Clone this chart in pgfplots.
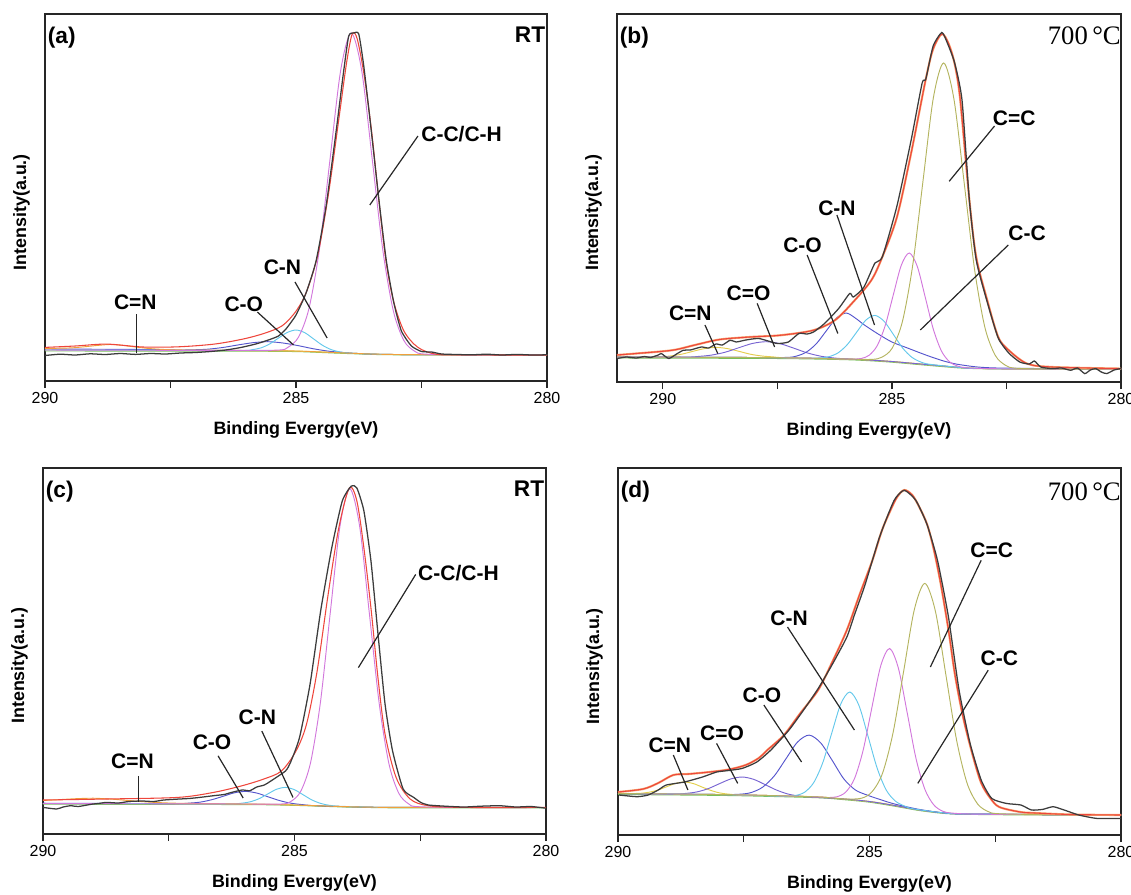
\documentclass[border=0pt]{standalone}
\usepackage{fontspec}
\setmainfont{Liberation Sans}
\newfontfamily\seriffont{Liberation Serif}
\usepackage{pgfplots}
\pgfplotsset{compat=1.18}

\definecolor{dat}{RGB}{60,60,60}
\definecolor{env}{RGB}{238,70,60}
\definecolor{envo}{RGB}{245,165,110}
\definecolor{pk}{RGB}{210,120,220}
\definecolor{cy}{RGB}{100,200,235}
\definecolor{bl}{RGB}{85,85,205}
\definecolor{vi}{RGB}{120,100,210}
\definecolor{ol}{RGB}{180,180,95}
\definecolor{ye}{RGB}{225,215,80}
\definecolor{gr}{RGB}{120,190,90}
\definecolor{orn}{RGB}{240,160,60}

\pgfplotsset{
  xps/.style={
    scale only axis, anchor=south west,
    x dir=reverse, xmin=280, xmax=290, ymin=0,
    axis line style={line width=1.2pt, black!85},
    xtick={280,285,290}, minor xtick={282.5,287.5},
    ytick=\empty, tick align=outside, xtick pos=left,
    major tick length=5.25pt, minor tick length=5.25pt,
    tick style={line width=1pt, black!85},
    tick label style={font=\fontsize{12}{14}\selectfont},
    /pgf/number format/assume math mode=true,
    clip=false,
  },
  comp/.style={smooth, line width=0.7pt},
  envl/.style={smooth, line width=0.8pt, env},
  datl/.style={smooth, tension=0.35, line width=0.95pt, dat},
}
\tikzset{
  lab/.style={font=\fontsize{15.75}{18}\selectfont\bfseries, inner sep=0pt},
  lead/.style={line width=0.9pt, black!85},
  plab/.style={font=\fontsize{17}{20}\selectfont\bfseries, inner sep=0pt},
  tlab/.style={font=\fontsize{13.4}{16}\selectfont\bfseries},
}
\newcommand{\axlabels}{%
  \node[tlab] at (rel axis cs:0.5,0) [yshift=-36.5pt] {Binding Evergy(eV)};
  \node[tlab, rotate=90, yshift=17.6pt] at (rel axis cs:0,0.46) {Intensity(a.u.)};
}

\begin{document}
\begin{tikzpicture}
\useasboundingbox (0,0) rectangle (848.25pt,-671.25pt);

% ---------------- (a) RT ----------------
\begin{axis}[xps, at={(33.75pt,-285.75pt)}, width=376.5pt, height=275.25pt, ymax=367]
\addplot[comp, gr] coordinates {(290,30) (286,29.8) (285,29.4) (284.5,28.5) (284,27.5) (283.5,26.7) (283,26.2) (280,25.8)};
\addplot[comp, ye] coordinates {(290,31) (287,30.7) (286,30.4) (285.5,30.2) (285,29.9) (284.5,29) (284,28) (283.5,27) (283,26.5) (282,26.1) (280,26)};
\addplot[comp, bl] coordinates {(290,32) (288,31.5) (287.36,31) (287.06,31.2) (286.76,31.8) (286.46,33.5) (286.16,36) (285.86,38.3) (285.56,39.3) (285.26,38) (284.96,35.4) (284.66,32.3) (284.36,29.9) (284.06,28.5) (283.76,27.5) (283,26.5) (280,26)};
\addplot[comp, cy] coordinates {(290,31) (287,30.7) (286.05,30.5) (285.875,31.3) (285.7,33.1) (285.525,37) (285.35,42.9) (285.175,48.5) (285,51) (284.825,48.3) (284.65,42.1) (284.475,35.8) (284.3,31.4) (284.125,29.1) (283.95,28) (283.5,27) (283,26.5) (280,26)};
\addplot[comp, orn] coordinates {(290,32.5) (289.7,32.8) (289.45,33.2) (289.2,34.3) (288.95,35.6) (288.7,36.5) (288.45,35.6) (288.2,34) (287.95,32.6) (287.7,31.7) (287.45,31.2) (287.2,31) (286,30.5) (285,30) (284,28) (283,26.5) (280,26)};
\addplot[comp, pk] coordinates {(290,31) (286.5,30.6) (285.37,30.9) (285.16,33.7) (284.95,43.9) (284.74,72.8) (284.53,133) (284.32,222.7) (284.11,310.6) (283.9,348) (283.69,310) (283.48,221.1) (283.27,130.7) (283.06,69.9) (282.85,40.4) (282.64,29.9) (282.43,26.9) (281.5,26.1) (280,26)};
\addplot[envl] coordinates {(290,33.6) (289.4,35) (288.77,36.9) (288.05,34) (287.34,34.2) (286.63,36.9) (286.06,41.9) (285.63,47.7) (285.27,55.4) (284.99,70.5) (284.78,90.6) (284.56,127.5) (284.35,188) (284.13,268) (283.99,319) (283.88,347) (283.78,342) (283.64,305) (283.49,248) (283.35,181) (283.21,121) (283.06,80.5) (282.85,50) (282.57,33.6) (282.21,26.8) (281.64,26.2) (280,25.8)};
\addplot[datl] coordinates {(290,25.5) (289.7,26.8) (289.4,26) (289.1,27.2) (288.8,26.5) (288.5,27.5) (288.2,26.6) (287.9,27.5) (287.6,27) (287.3,28) (287,28.5) (286.7,29.5) (286.4,31) (286.1,33.5) (285.8,37) (285.55,41) (285.35,45) (285.2,52) (285,66) (284.8,88) (284.6,120) (284.4,175) (284.2,250) (284.05,310) (283.95,345) (283.85,348) (283.75,347) (283.65,315) (283.5,250) (283.35,182) (283.2,120) (283.05,78) (282.9,50) (282.7,35) (282.5,29.5) (282.3,29) (282.1,27) (281.8,26.5) (281.5,26.2) (281.2,26.8) (280.9,26) (280.6,26.6) (280.3,26) (280,26.2)};
\draw[lead] (axis cs:282.57,245) -- (axis cs:283.53,176);
\draw[lead] (axis cs:285.02,99) -- (axis cs:284.38,43);
\draw[lead] (axis cs:285.77,69) -- (axis cs:285.05,36);
\draw[lead] (axis cs:288.18,67) -- (axis cs:288.18,28.5);
\node[lab] at (axis cs:281.70,246.6) {C-C/C-H};
\node[lab] at (axis cs:285.27,114) {C-N};
\node[lab] at (axis cs:286.04,77) {C-O};
\node[lab] at (axis cs:288.2,79) {C=N};
\node[plab, anchor=north west] at (rel axis cs:0,1) [xshift=2pt, yshift=-9.5pt] {(a)};
\node[plab, anchor=north east] at (rel axis cs:1,1) [xshift=-1.2pt, yshift=-9.5pt] {RT};
\axlabels
\end{axis}

% ---------------- (b) 700 C ----------------
\begin{axis}[xps, at={(462.75pt,-286.5pt)}, width=378pt, height=276pt, xmax=291, ymax=368]
\addplot[comp, gr] coordinates {(291,24) (288,23.6) (287,23.2) (286,22.3) (285.5,21.3) (285,19.8) (284.5,17.8) (284,15.8) (283.5,14) (283,13.2) (282,12.8) (280,12.8)};
\addplot[comp, ye] coordinates {(291,25) (288,24.5) (287,24) (286,23) (285.5,22) (285,20.5) (284.5,18.5) (284,16.5) (283.5,14.5) (283,13.5) (282,13) (280,13)};
\addplot[comp, ye!80!orn] coordinates {(291,25) (290.34,24.8) (290.09,25.1) (289.84,26) (289.59,27.8) (289.34,30.7) (289.09,33.4) (288.84,34.6) (288.59,33.4) (288.34,30.7) (288.09,27.8) (287.84,26) (287.59,25.1) (287.34,24.3) (286,23) (285,20.5) (284,16.5) (283,13.5) (280,13)};
\addplot[comp, vi] coordinates {(291,25) (289.54,24.9) (289.24,25.5) (288.94,26.9) (288.64,29.8) (288.34,34.3) (288.04,38.6) (287.74,40.3) (287.44,38.3) (287.14,33.8) (286.84,29) (286.54,25.7) (286.24,23.9) (285.94,23) (285.5,22) (285,20.5) (284.5,18.5) (284,16.5) (283.5,14.5) (283,13.5) (280,13)};
\addplot[comp, bl] coordinates {(291,25) (288,24.5) (287.29,24.6) (287.075,26) (286.86,30.1) (286.645,38.5) (286.43,51.3) (286.215,63.8) (286,69) (285.8,64) (285.6,57) (285.3,48) (285,40) (284.66,34) (284.26,27) (283.87,21) (283.47,17) (282.7,14) (280,13)};
\addplot[comp, cy] coordinates {(291,25) (288,24.5) (287,24) (286.57,24.1) (286.37,25.4) (286.17,29.3) (285.97,37.6) (285.77,49.8) (285.57,61.8) (285.37,66.6) (285.17,60.7) (284.97,47.7) (284.77,34.2) (284.57,24.9) (284.37,20) (284.17,17.7) (283.5,14.5) (283,13.5) (280,13)};
\addplot[comp, pk] coordinates {(291,25) (288,24.5) (287,24) (286,23) (285.845,22.9) (285.67,23.5) (285.495,26.8) (285.32,36.4) (285.145,56.6) (284.97,87.1) (284.795,116.8) (284.62,129) (284.445,115.4) (284.27,84.3) (284.095,52.6) (283.92,31.1) (283.745,20.3) (283.57,16) (283.395,14.3) (283,13.5) (282,13) (280,13)};
\addplot[comp, ol] coordinates {(291,25) (288,24.5) (287,24) (286,23) (285.445,22.6) (285.22,24.8) (284.995,33.8) (284.77,60.6) (284.545,117.1) (284.32,201.6) (284.095,284.3) (283.87,319) (283.645,282.5) (283.42,198.1) (283.195,112.3) (282.97,54.5) (282.745,26.7) (282.52,16.7) (282.295,13.8) (281.5,13) (280,13)};
\addplot[smooth, line width=1.6pt, envo] coordinates {(291,27) (290.58,28.5) (289.79,31.8) (289.3,37) (288.76,42.5) (288.1,45) (287.42,46.8) (286.71,51.8) (286.24,61.9) (285.84,80.3) (285.45,101.7) (285.21,125) (284.89,165) (284.58,229) (284.26,303) (284.1,333) (283.91,348) (283.76,338) (283.63,318) (283.51,282.6) (283.31,182.3) (283.16,125) (282.92,81.9) (282.68,45) (282.45,31.8) (282.05,18.4) (281.5,15) (280,13.4)};
\addplot[envl] coordinates {(291,27) (290.58,28.5) (289.79,31.8) (289.3,37) (288.76,42.5) (288.1,45) (287.42,46.8) (286.71,51.8) (286.24,61.9) (285.84,80.3) (285.45,101.7) (285.21,125) (284.89,165) (284.58,229) (284.26,303) (284.1,333) (283.91,348) (283.76,338) (283.63,318) (283.51,282.6) (283.31,182.3) (283.16,125) (282.92,81.9) (282.68,45) (282.45,31.8) (282.05,18.4) (281.5,15) (280,13.4)};
\addplot[datl] coordinates {(291,23.4) (290.8,25) (290.58,24) (290.4,25.5) (290.27,24.5) (290.1,27) (290.03,28.4) (289.87,23.5) (289.7,28) (289.55,31.8) (289.4,32) (289.16,35) (289,34) (288.84,38) (288.7,37) (288.53,41.8) (288.4,40) (288.21,41.8) (288.05,43) (287.9,43.5) (287.7,41) (287.5,38.5) (287.26,40) (287.03,48.5) (286.85,48) (286.71,50) (286.47,58.5) (286.16,73.6) (285.92,88.6) (285.84,85) (285.61,95) (285.37,119) (285.21,125) (284.89,176) (284.58,242) (284.34,299) (284.26,303) (284.1,336) (283.91,349.5) (283.79,339) (283.63,319) (283.47,282) (283.31,182) (283.16,122) (282.92,80) (282.68,44) (282.45,29) (282.21,20) (282,18) (281.89,21) (281.75,15) (281.5,13.4) (281.3,14) (281.1,11.7) (280.95,14) (280.79,8.4) (280.67,12) (280.55,13.4) (280.43,10) (280.31,8.4) (280.15,12) (280,13.4)};
\draw[lead] (axis cs:282.76,256) -- (axis cs:283.75,200.7);
\draw[lead] (axis cs:282.46,137) -- (axis cs:284.38,52);
\draw[lead] (axis cs:286.2,167) -- (axis cs:285.38,57);
\draw[lead] (axis cs:286.85,127) -- (axis cs:286.18,48.5);
\draw[lead] (axis cs:287.94,78.6) -- (axis cs:287.56,35);
\draw[lead] (axis cs:289.08,57) -- (axis cs:288.8,28.4);
\node[lab] at (axis cs:282.33,264) {C=C};
\node[lab] at (axis cs:282.05,149) {C-C};
\node[lab] at (axis cs:286.2,174) {C-N};
\node[lab] at (axis cs:286.95,137) {C-O};
\node[lab] at (axis cs:288.13,88.6) {C=O};
\node[lab] at (axis cs:289.4,68.6) {C=N};
\node[plab, anchor=north west] at (rel axis cs:0,1) [xshift=2pt, yshift=-9.5pt] {(b)};
\node[anchor=north east, inner sep=0pt, font=\seriffont\fontsize{20}{22}\selectfont] at (rel axis cs:1,1) [yshift=-9.5pt] {700\,°C};
\axlabels
\end{axis}

% ---------------- (c) RT ----------------
\begin{axis}[xps, at={(32.25pt,-625.5pt)}, width=377.25pt, height=274.5pt, ymax=366]
\addplot[comp, gr] coordinates {(290,29.8) (286,29.4) (285,28.6) (284.5,27.8) (284,27) (283.5,26.5) (283,26.2) (280,26)};
\addplot[comp, ye] coordinates {(290,30.5) (286,30) (285,29) (284.5,28.2) (284,27.4) (283.5,26.9) (283,26.6) (280,26.5)};
\addplot[comp, bl] coordinates {(290,30.8) (288,30.5) (287.32,30.3) (287.095,30.9) (286.87,31.9) (286.645,34.3) (286.42,37.7) (286.195,41.2) (285.97,42.6) (285.745,40.9) (285.52,37.1) (285.295,33.4) (285.07,30.8) (284.845,29.4) (284.62,28.4) (284,27.4) (283,26.6) (280,26.5)};
\addplot[comp, cy] coordinates {(290,30.5) (287,30.2) (286.23,30.2) (286.055,30.8) (285.88,32.2) (285.705,35.3) (285.53,40.1) (285.355,44.8) (285.18,46.6) (285.005,44.4) (284.83,39.3) (284.655,34.1) (284.48,30.6) (284.305,28.7) (284.13,27.8) (283.8,27.3) (283.5,26.9) (283,26.6) (280,26.5)};
\addplot[comp, orn] coordinates {(290,33.5) (289.7,34.3) (289.35,35.3) (289,35.8) (288.65,34.9) (288.3,33.5) (287.95,32.1) (287.6,31.2) (287.25,30.7) (286,30) (285,29) (284,27.4) (283,26.6) (280,26.5)};
\addplot[comp, pk] coordinates {(290,30.5) (286,30) (285.265,30) (285.07,32.6) (284.875,42.8) (284.68,71.5) (284.485,131.5) (284.29,220.7) (284.095,308.1) (283.9,345.3) (283.705,307.7) (283.51,219.8) (283.315,130.1) (283.12,69.7) (282.925,40.6) (282.73,30.1) (282.535,27.3) (281.5,26.5) (280,26.5)};
\addplot[envl] coordinates {(290,34) (288.74,35) (287.32,36.6) (286.61,41.6) (286.04,48.3) (285.61,55) (285.26,63) (284.97,83) (284.76,110) (284.55,163) (284.33,240) (284.12,306) (283.91,346) (283.76,333) (283.62,286) (283.48,226) (283.34,156) (283.2,100) (282.98,56.6) (282.7,35) (282.34,28.3) (281.63,26.6) (280,26.6)};
\addplot[datl] coordinates {(290,26.6) (289.73,25) (289.6,27) (289.45,28.3) (289.3,27.5) (289.02,29.9) (288.9,30.5) (288.74,31.6) (288.5,31) (288.3,32.5) (288.03,33) (287.8,32.5) (287.6,34) (287.32,34.9) (287.1,35.5) (286.9,36.5) (286.61,38.3) (286.4,39.5) (286.25,41.6) (286.04,44) (285.89,43.3) (285.75,47) (285.6,49) (285.47,53) (285.18,63) (285.08,71.5) (284.9,96.5) (284.69,150) (284.48,223) (284.26,286) (284.05,333) (283.87,348) (283.76,346) (283.62,323) (283.48,273) (283.34,200) (283.2,130) (283.05,83) (282.84,45) (282.63,36.6) (282.49,31.6) (282.34,29) (282,27.8) (281.63,27) (281.3,27.8) (280.92,28.3) (280.6,27) (280.3,27.5) (280,25.8)};
\draw[lead] (axis cs:282.59,259.6) -- (axis cs:283.73,166.4);
\draw[lead] (axis cs:285.65,103) -- (axis cs:285.03,36.6);
\draw[lead] (axis cs:286.52,78.2) -- (axis cs:286.02,36);
\draw[lead] (axis cs:288.1,58.2) -- (axis cs:288.1,31.6);
\node[lab] at (axis cs:281.74,261) {C-C/C-H};
\node[lab] at (axis cs:285.74,116.5) {C-N};
\node[lab] at (axis cs:286.64,91.5) {C-O};
\node[lab] at (axis cs:288.22,73.2) {C=N};
\node[plab, anchor=north west] at (rel axis cs:0,1) [xshift=2pt, yshift=-9.5pt] {(c)};
\node[plab, anchor=north east] at (rel axis cs:1,1) [xshift=-1.2pt, yshift=-9.5pt] {RT};
\axlabels
\end{axis}

% ---------------- (d) 700 C ----------------
\begin{axis}[xps, at={(463.5pt,-626.25pt)}, width=377.25pt, height=275.25pt, ymax=367]
\addplot[comp, gr] coordinates {(290,40.5) (288,39.6) (287,38.6) (286,37.2) (285.5,35.3) (285,32.8) (284.5,28.8) (284,24.4) (283.5,21.5) (283,20.6) (282,20.1) (280,19.6)};
\addplot[comp, ye] coordinates {(290,41.5) (288,40.5) (287,39.5) (286,38) (285.5,36) (285,33.5) (284.5,29.5) (284,25) (283.5,22) (283,21) (282,20.5) (280,20)};
\addplot[comp, ye!85!orn] coordinates {(290,41.5) (289.73,41.5) (289.555,41.7) (289.38,42.8) (289.205,45) (289.03,48.3) (288.855,51.6) (288.68,53) (288.505,51.5) (288.33,48) (288.155,44.6) (287.98,42.1) (287.805,40.9) (287.63,40.3) (287,39.5) (286,38) (285,33.5) (284.5,29.5) (284,25) (283.5,22) (283,21) (280,20)};
\addplot[comp, vi] coordinates {(290,41.5) (288.88,40.9) (288.655,41.6) (288.43,43.1) (288.205,46.4) (287.98,51.4) (287.755,56.1) (287.53,58) (287.305,55.7) (287.08,50.5) (286.855,45.1) (286.63,41.1) (286.405,39) (286.18,38) (285.5,36) (285,33.5) (284.5,29.5) (284,25) (283.5,22) (283,21) (280,20)};
\addplot[comp, bl] coordinates {(290,41.5) (288,40.5) (287.58,40.8) (287.35,42.5) (287.12,48) (286.89,59.3) (286.66,76.3) (286.43,93) (286.2,99.9) (285.97,92.1) (285.74,74.5) (285.51,56.1) (285.28,45) (285.05,40) (284.82,36) (284.5,31) (284,25.5) (283.5,22) (283,21) (280,20)};
\addplot[comp, cy] coordinates {(290,41.5) (288,40.5) (287,39.2) (286.65,38.7) (286.47,39.5) (286.29,42.8) (286.11,52.3) (285.93,72.2) (285.75,102) (285.57,131.2) (285.39,143) (285.21,129.6) (285.03,98.9) (284.85,67.2) (284.67,45.2) (284.49,34.1) (284.31,29.1) (284.13,26.2) (283.5,22) (283,21) (280,20)};
\addplot[comp, pk] coordinates {(290,41.5) (288,40.5) (287,39.5) (286,38) (285.825,37.5) (285.65,38.2) (285.475,42.8) (285.3,56.2) (285.125,85.1) (284.95,128.1) (284.775,169.5) (284.6,186.5) (284.425,166.7) (284.25,122.1) (284.075,76.4) (283.9,45.8) (283.725,30.3) (283.55,23.9) (283.375,22) (283,21) (282,20.5) (280,20)};
\addplot[comp, ol] coordinates {(290,41.5) (288,40.5) (287,39.5) (286,38) (285.5,36) (285.16,36.8) (284.95,43.2) (284.74,61.9) (284.53,102.7) (284.32,164.1) (284.11,225.1) (283.9,251.6) (283.69,223.8) (283.48,159.7) (283.27,95.2) (283.06,51.8) (282.85,31) (282.64,23.4) (282.43,21.3) (281.5,20.4) (280,20)};
\addplot[smooth, line width=1.6pt, envo] coordinates {(290,43) (289.5,46) (289.2,52) (288.9,60) (288.6,61) (288.18,63) (287.8,65.5) (287.46,70) (287.2,77) (287.03,85) (286.7,100) (286.38,121.5) (286.02,145) (285.75,172) (285.45,205) (285.2,240) (284.94,275) (284.75,305) (284.58,325) (284.45,338) (284.31,345) (284.15,340) (284.01,328) (283.85,310) (283.72,285) (283.58,250) (283.43,205) (283.3,160) (283.14,118) (282.95,80) (282.78,52) (282.6,37) (282.42,28) (282,23) (281.71,22) (281,20.5) (280,20)};
\addplot[envl] coordinates {(290,43) (289.5,46) (289.2,52) (288.9,60) (288.6,61) (288.18,63) (287.8,65.5) (287.46,70) (287.2,77) (287.03,85) (286.7,100) (286.38,121.5) (286.02,145) (285.75,172) (285.45,205) (285.2,240) (284.94,275) (284.75,305) (284.58,325) (284.45,338) (284.31,345) (284.15,340) (284.01,328) (283.85,310) (283.72,285) (283.58,250) (283.43,205) (283.3,160) (283.14,118) (282.95,80) (282.78,52) (282.6,37) (282.42,28) (282,23) (281.71,22) (281,20.5) (280,20)};
\addplot[datl] coordinates {(289.98,40) (289.62,38.3) (289.4,40) (289.2,45) (289.04,50) (288.68,53) (288.32,58) (288.04,63) (287.8,64.5) (287.53,66.6) (287.24,73) (286.96,85) (286.6,105) (286.31,125) (286.02,146.5) (285.73,171.5) (285.45,198) (285.3,220) (285.09,250) (284.8,298) (284.51,334.7) (284.31,344.7) (284.08,334.7) (283.86,311) (283.65,275) (283.43,218) (283.22,145) (283,91.6) (282.78,55) (282.57,36.6) (282.28,31.6) (281.99,30) (281.78,25) (281.56,25.6) (281.35,28.3) (281.13,25) (280.84,20) (280.48,16.6) (280,16.6)};
\draw[lead] (axis cs:282.78,274.7) -- (axis cs:283.79,168);
\draw[lead] (axis cs:282.64,164.8) -- (axis cs:284.04,51.6);
\draw[lead] (axis cs:286.63,208) -- (axis cs:285.3,105);
\draw[lead] (axis cs:287.1,130) -- (axis cs:286.35,73);
\draw[lead] (axis cs:288.04,91.6) -- (axis cs:287.62,51.6);
\draw[lead] (axis cs:288.9,80) -- (axis cs:288.61,45);
\node[lab] at (axis cs:282.57,284.7) {C=C};
\node[lab] at (axis cs:282.42,176.5) {C-C};
\node[lab] at (axis cs:286.6,216.4) {C-N};
\node[lab] at (axis cs:287.14,140) {C-O};
\node[lab] at (axis cs:287.93,101.6) {C=O};
\node[lab] at (axis cs:288.97,90) {C=N};
\node[plab, anchor=north west] at (rel axis cs:0,1) [xshift=2pt, yshift=-9.5pt] {(d)};
\node[anchor=north east, inner sep=0pt, font=\seriffont\fontsize{20}{22}\selectfont] at (rel axis cs:1,1) [yshift=-11pt] {700\,°C};
\axlabels
\end{axis}
\end{tikzpicture}
\end{document}
